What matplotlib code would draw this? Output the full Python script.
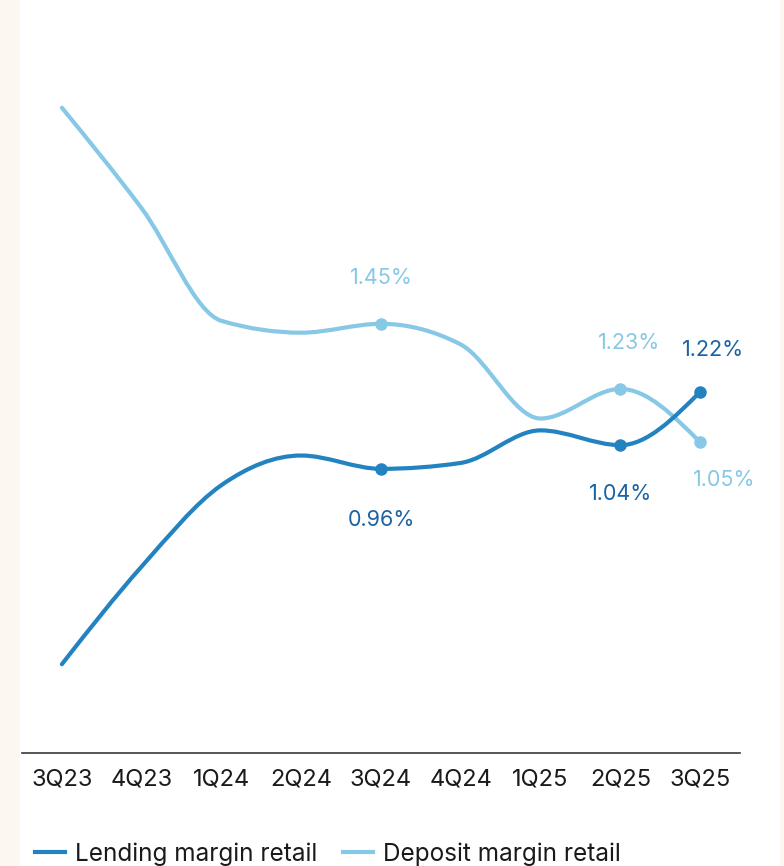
import numpy as np
import matplotlib.pyplot as plt
from matplotlib.path import Path
from matplotlib.patches import PathPatch
from matplotlib.lines import Line2D

quarters = ['3Q23', '4Q23', '1Q24', '2Q24', '3Q24', '4Q24', '1Q25', '2Q25', '3Q25']
lending = [0.30, 0.63, 0.905, 1.005, 0.96, 0.98, 1.09, 1.04, 1.22]
deposit = [2.18, 1.84, 1.46, 1.42, 1.45, 1.38, 1.13, 1.23, 1.05]
labelled = [4, 7, 8]

lend_col = '#2383c0'
lend_txt = '#1b62a3'
dep_col = '#87c8e6'
bg = '#fdf7f2'
plt.rcParams['font.family'] = ['Inter', 'DejaVu Sans']


def monotone_path(x, y):
    # monotone cubic (d3 curveMonotoneX style) as bezier segments
    x = np.asarray(x, float)
    y = np.asarray(y, float)
    n = len(x)
    h = np.diff(x)
    s = np.diff(y) / h
    m = np.zeros(n)
    for i in range(1, n - 1):
        p = (s[i - 1] * h[i] + s[i] * h[i - 1]) / (h[i - 1] + h[i])
        m[i] = (np.sign(s[i - 1]) + np.sign(s[i])) * min(abs(s[i - 1]), abs(s[i]), 0.5 * abs(p))
    m[0] = (3 * s[0] - m[1]) / 2
    m[-1] = (3 * s[-1] - m[-2]) / 2
    verts = [(x[0], y[0])]
    codes = [Path.MOVETO]
    for i in range(n - 1):
        d = h[i] / 3
        verts += [(x[i] + d, y[i] + m[i] * d), (x[i + 1] - d, y[i + 1] - m[i + 1] * d), (x[i + 1], y[i + 1])]
        codes += [Path.CURVE4] * 3
    return Path(verts, codes)


fig = plt.figure(figsize=(7.84, 8.66), dpi=100, facecolor=bg)
fig.patches.append(plt.Rectangle((20 / 784, 0), 760 / 784, 1, transform=fig.transFigure,
                                 facecolor='white', edgecolor='none', zorder=-10))
ax = fig.add_axes([22 / 784, 113 / 866, 718 / 784, 740 / 866])
ax.set_zorder(2)
ax.set_facecolor('none')
x = np.arange(len(quarters))

for vals, col in [(deposit, dep_col), (lending, lend_col)]:
    ax.add_patch(PathPatch(monotone_path(x, vals), facecolor='none', edgecolor=col,
                           lw=3, capstyle='round', joinstyle='round'))
    ax.plot(x[labelled], np.array(vals)[labelled], 'o', color=col, ms=8, zorder=3)

lend_offsets = {4: (0, -37), 7: (0, -35), 8: (9, 30)}
dep_offsets = {4: (0, 33), 7: (6, 33), 8: (17, -27)}
for i in labelled:
    ax.annotate(f'{lending[i]:.2f}%', (x[i], lending[i]), xytext=lend_offsets[i], textcoords='offset points',
                ha='center', va='center', fontsize=15.5, color=lend_txt)
    ax.annotate(f'{deposit[i]:.2f}%', (x[i], deposit[i]), xytext=dep_offsets[i], textcoords='offset points',
                ha='center', va='center', fontsize=15.5, color=dep_col)

ax.set_xlim(-0.5, 8.5)
ax.set_ylim(0, 2.5)
ax.set_xticks(x)
ax.set_xticklabels(quarters, fontsize=17, color='#1a1a1a')
ax.tick_params(axis='x', length=0, pad=11)
ax.set_yticks([])
for side in ['top', 'right', 'left']:
    ax.spines[side].set_visible(False)
ax.spines['bottom'].set_color('#3a3a3a')
ax.spines['bottom'].set_linewidth(1.2)

names = ['Lending margin retail', 'Deposit margin retail']
for name, col, x0 in [(names[0], lend_col, 13), (names[1], dep_col, 321)]:
    leg = fig.legend([Line2D([], [], color=col, lw=3)], [name], loc='center left',
                     bbox_to_anchor=(x0 / 784, 12 / 866), frameon=False, fontsize=17.5,
                     handlelength=1.25, handletextpad=0.4, labelcolor='#1a1a1a')

plt.savefig('out.png', dpi=100, facecolor=bg)
plt.close()
